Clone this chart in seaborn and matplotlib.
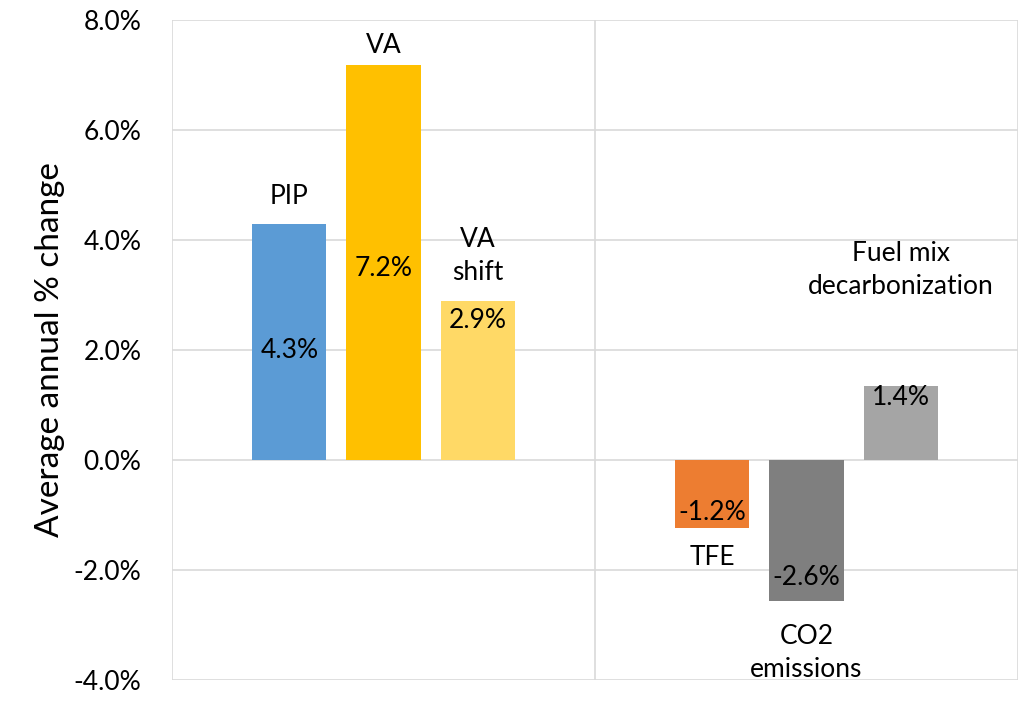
import matplotlib
matplotlib.use("Agg")
import matplotlib.pyplot as plt
import seaborn as sns
import pandas as pd
from matplotlib.ticker import FuncFormatter, FixedLocator

# data
groups = ["activity", "energy"]
bar_groups = ["activity", "activity", "activity", "energy", "energy", "energy"]
slots = [0, 1, 2, 0, 1, 2]
names = ["PIP", "VA", "VA\nshift", "TFE", "CO2\nemissions", "Fuel mix\ndecarbonization"]
values = [4.29, 7.18, 2.89, -1.24, -2.56, 1.35]
colors = ["#5B9BD5", "#FFC000", "#FFD966", "#ED7D31", "#7F7F7F", "#A5A5A5"]
yticks = [-4, -2, 0, 2, 4, 6, 8]

# label placement (pixels, relative to bar end or middle)
value_anchor = ["mid", "mid", "end", "end", "end", "end"]
value_off = [-8, -6, -19, 16, 23, -12]
name_off = [28, 20, 45, -29, -52, 116]

df = pd.DataFrame({"group": bar_groups, "slot": slots, "value": values})

sns.set_theme(style="white")
plt.rcParams["font.family"] = ["Lato", "DejaVu Sans"]

fig = plt.figure(figsize=(10.25, 7.01), dpi=100)
ax = fig.add_axes([172 / 1025, 21 / 701, 846 / 1025, 660 / 701])

sns.barplot(data=df, x="group", y="value", hue="slot", order=groups,
            palette=["#888888"] * 3, width=0.667, gap=0.213,
            legend=False, ax=ax, saturation=1)

# recolour each bar
for j, cont in enumerate(ax.containers):
    for i, patch in enumerate(cont):
        patch.set_facecolor(colors[i * 3 + j])
        patch.set_edgecolor("none")

px = 72 / 100  # pixel -> points
for j, cont in enumerate(ax.containers):
    for i, patch in enumerate(cont):
        k = i * 3 + j
        v = values[k]
        xc = patch.get_x() + patch.get_width() / 2
        y0 = v / 2 if value_anchor[k] == "mid" else v
        ax.annotate(f"{v:.1f}%", (xc, y0), xytext=(0, value_off[k] * px),
                    textcoords="offset points", ha="center", va="center",
                    fontsize=19, color="black")
        ax.annotate(names[k], (xc, v), xytext=(0, name_off[k] * px),
                    textcoords="offset points", ha="center", va="center",
                    fontsize=19, color="black", linespacing=1.4)

ax.set_xlim(-0.5, 1.5)
ax.set_ylim(-4, 8)
ax.yaxis.set_major_locator(FixedLocator(yticks))
ax.yaxis.set_major_formatter(FuncFormatter(lambda y, p: f"{y:.1f}%"))
ax.xaxis.set_major_locator(FixedLocator([-0.5, 0.5, 1.5]))
ax.set_xticklabels([])
ax.grid(True, which="major", axis="both", color="#D9D9D9", linewidth=1.2)
ax.set_axisbelow(True)
for s in ax.spines.values():
    s.set_visible(False)
ax.tick_params(axis="y", length=0, pad=22, labelsize=19, labelcolor="black")
ax.tick_params(axis="x", length=0)
ax.set_xlabel("")
ax.set_ylabel("Average annual % change", fontsize=24, color="black", labelpad=6)

fig.savefig("out.png", dpi=100)
